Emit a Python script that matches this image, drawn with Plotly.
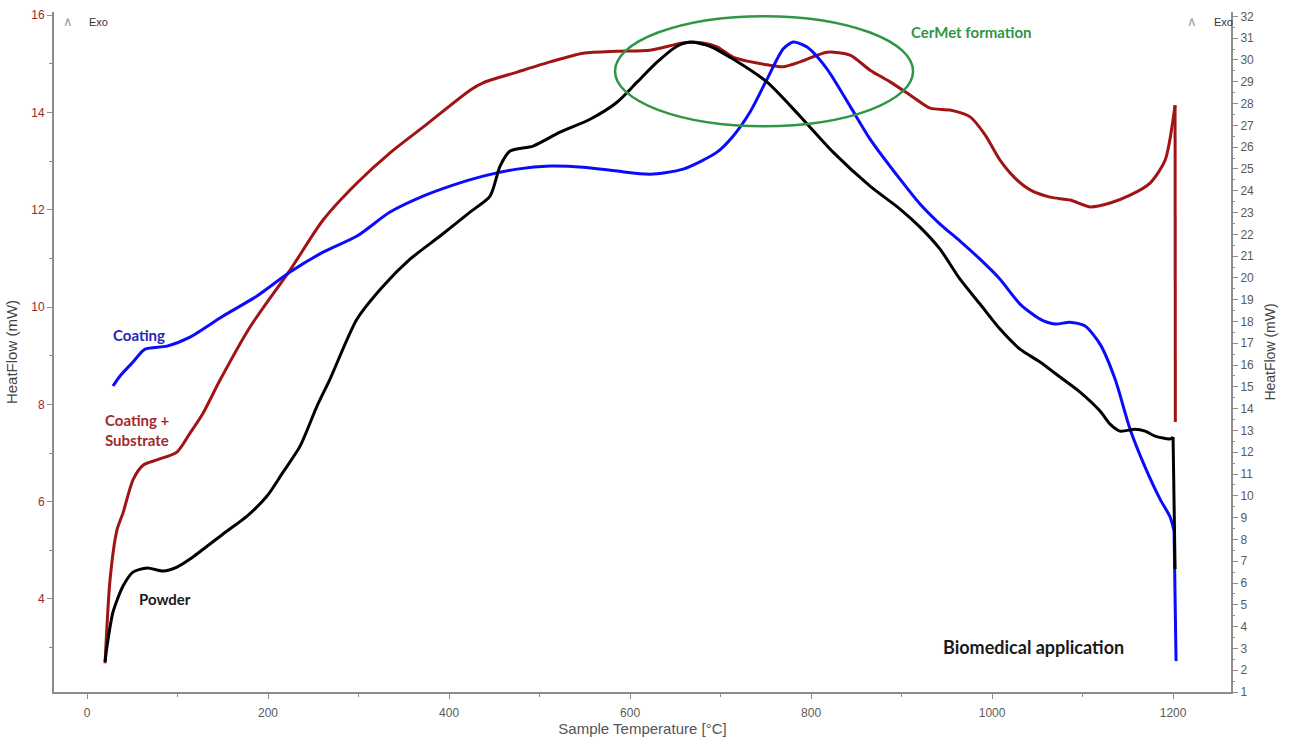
import plotly.graph_objects as go

# DSC heat-flow traces (temperature in °C, heat flow in mW)
# Coating + Substrate -> left axis
temp_substrate = [19.9, 25.4, 33.1, 39.8, 50.8, 61.9, 77.3, 99.4, 113.8, 128.2, 147.0, 180.1,
                  224.3, 260.8, 298.3, 334.8, 371.3, 423.2, 437.6, 475.1, 511.6, 548.1, 585.6,
                  622.1, 658.6, 680.7, 696.1, 713.8, 751.4, 769.1, 787.8, 817.7, 843.1, 865.2,
                  887.3, 909.4, 931.5, 953.6, 975.7, 992.3, 1008.8, 1025.4, 1042.0, 1064.1,
                  1086.2, 1108.3, 1130.4, 1152.5, 1174.6, 1191.2, 1202.2, 1202.5]
hf_substrate = [2.68, 4.39, 5.42, 5.77, 6.45, 6.75, 6.86, 7.02, 7.41, 7.82, 8.50, 9.59,
                10.76, 11.79, 12.55, 13.17, 13.70, 14.46, 14.61, 14.83, 15.04, 15.22, 15.26,
                15.28, 15.43, 15.43, 15.35, 15.14, 14.98, 14.94, 15.04, 15.24, 15.18, 14.87,
                14.63, 14.36, 14.09, 14.05, 13.91, 13.54, 13.02, 12.65, 12.41, 12.26,
                12.20, 12.06, 12.14, 12.30, 12.55, 13.02, 14.15, 7.64]

# Powder -> right axis
temp_powder = [19.9, 22.1, 28.7, 39.8, 50.8, 66.3, 84.0, 99.4, 113.8, 150.3, 176.8, 198.9,
               216.6, 235.4, 254.1, 268.5, 298.3, 327.1, 356.9, 390.1, 423.2, 445.3, 456.4,
               467.4, 492.8, 522.7, 555.8, 585.6, 607.7, 629.8, 651.9, 666.3, 688.4, 713.8,
               751.4, 787.8, 824.3, 865.2, 898.3, 920.4, 942.5, 964.6, 986.7, 1008.8, 1030.9,
               1053.0, 1075.1, 1097.2, 1119.3, 1130.4, 1141.4, 1158.0, 1169.1, 1180.1,
               1196.7, 1200.0, 1202.2]
hf_powder = [2.38, 3.11, 4.67, 5.86, 6.50, 6.69, 6.55, 6.73, 7.10, 8.25, 9.07, 9.99,
             11.09, 12.28, 14.12, 15.36, 18.11, 19.62, 20.86, 21.92, 23.02, 23.75, 25.13,
             25.82, 26.05, 26.69, 27.28, 28.06, 28.98, 29.90, 30.63, 30.82, 30.63, 30.04,
             28.98, 27.42, 25.77, 24.21, 23.16, 22.33, 21.32, 19.94, 18.80, 17.65, 16.73,
             16.14, 15.45, 14.76, 13.89, 13.29, 12.97, 13.06, 12.97, 12.74,
             12.61, 12.70, 6.64]

# Coating -> right axis
temp_coating = [28.7, 36.5, 50.8, 64.1, 88.4, 113.8, 150.3, 187.8, 224.3, 260.8, 298.3,
                334.8, 371.3, 401.1, 437.6, 475.1, 511.6, 548.1, 585.6, 622.1, 658.6, 696.1,
                713.8, 732.6, 751.4, 769.1, 780.1, 795.6, 817.7, 843.1, 865.2, 898.3, 920.4,
                942.5, 964.6, 986.7, 1008.8, 1030.9, 1053.0, 1069.6, 1086.2, 1102.8, 1119.3,
                1135.9, 1152.5, 1169.1, 1185.6, 1196.7, 1201.1, 1203.3]
hf_coating = [15.04, 15.50, 16.14, 16.73, 16.87, 17.28, 18.25, 19.17, 20.27, 21.18, 21.92,
              23.02, 23.75, 24.21, 24.67, 24.99, 25.13, 25.08, 24.90, 24.76, 24.99, 25.77,
              26.50, 27.61, 29.12, 30.50, 30.82, 30.59, 29.58, 27.88, 26.37, 24.53, 23.39,
              22.47, 21.69, 20.86, 19.94, 18.80, 18.11, 17.88, 17.97, 17.79, 16.96,
              15.36, 13.06, 11.32, 9.85, 9.03, 8.39, 2.42]

# CerMet formation region outline (temperature, right-axis heat flow)
cermet_temp = [583.4, 912.7]
cermet_hf = [26.96, 32.01]

RED = "#a01414"
BLUE = "#0a0aff"
GREEN = "#2f9646"
AXIS = "#8c8c8c"
TICKTXT = "#5a5a5a"

fig = go.Figure()


def add_curve(t, hf, color, axis, name):
    # smooth body of the scan, then the final cooling drop as a straight segment
    fig.add_trace(go.Scatter(x=t[:-1], y=hf[:-1], mode="lines", yaxis=axis, name=name,
                             line=dict(color=color, width=3, shape="spline", smoothing=0.7)))
    fig.add_trace(go.Scatter(x=t[-2:], y=hf[-2:], mode="lines", yaxis=axis, name=name,
                             line=dict(color=color, width=3)))


add_curve(temp_coating, hf_coating, BLUE, "y2", "Coating")
add_curve(temp_powder, hf_powder, "black", "y2", "Powder")
add_curve(temp_substrate, hf_substrate, RED, "y", "Coating + Substrate")

fig.add_shape(type="circle", xref="x", yref="y2",
              x0=cermet_temp[0], x1=cermet_temp[1], y0=cermet_hf[0], y1=cermet_hf[1],
              line=dict(color=GREEN, width=2.5))

label_font = "Lato, 'Open Sans', sans-serif"
annotations = [
    dict(x=977, y=31.28, text="<b>CerMet formation</b>", font=dict(color=GREEN, size=15)),
    dict(x=57, y=17.38, text="<b>Coating</b>", font=dict(color="#2626b8", size=15)),
    dict(x=18.0, y=13.0, text="<b>Coating +<br>Substrate</b>", xanchor="left", align="left",
         font=dict(color="#a32a2a", size=15)),
    dict(x=86, y=5.27, text="<b>Powder</b>", font=dict(color="#1a1a1a", size=15)),
    dict(x=1046, y=3.06, text="<b>Biomedical application</b>", font=dict(color="#1a1a1a", size=18)),
]
for a in annotations:
    a.setdefault("xanchor", "center")
    a["font"]["family"] = label_font
    fig.add_annotation(xref="x", yref="y2", showarrow=False, yanchor="middle", **a)

# Exo direction markers
for xc, xe in [(0.012, 0.028), (0.967, 0.984)]:
    fig.add_annotation(xref="paper", yref="paper", x=xc, y=0.986, text="∧", showarrow=False,
                       xanchor="center", yanchor="middle",
                       font=dict(color="#9a9a9a", size=13, family="DejaVu Sans"))
    fig.add_annotation(xref="paper", yref="paper", x=xe, y=0.985, text="Exo", xanchor="left",
                       yanchor="middle", showarrow=False,
                       font=dict(color="#333333", size=11, family="Liberation Sans"))

tick_font = dict(family="Liberation Sans, Arial, sans-serif", size=12)

fig.update_layout(
    width=1290, height=737,
    margin=dict(l=54, r=59, t=12, b=45),
    paper_bgcolor="white", plot_bgcolor="white",
    showlegend=False,
    xaxis=dict(range=[-36.5, 1264], dtick=200, tick0=0, showgrid=False, zeroline=False,
               automargin=False,
               showline=True, linecolor=AXIS, linewidth=2, ticks="outside", ticklen=5,
               tickcolor=AXIS, tickfont=dict(color=TICKTXT, **tick_font),
               ticklabelstandoff=4,
               minor=dict(dtick=100, ticks="outside", ticklen=3, tickcolor=AXIS),
               title=dict(text="Sample Temperature [°C]", standoff=2,
                          font=dict(color="#555555", size=15, family="Liberation Sans"))),
    yaxis=dict(range=[2.088, 16.066], dtick=2, tick0=0, showgrid=False, zeroline=False,
               automargin=False,
               showline=True, linecolor=AXIS, linewidth=2, ticks="outside", ticklen=5,
               tickcolor=AXIS, tickfont=dict(color="#9b2a2a", **tick_font),
               minor=dict(dtick=1, ticks="outside", ticklen=3, tickcolor=AXIS),
               title=dict(text="HeatFlow (mW)", standoff=10,
                          font=dict(color="#444444", size=15, family="Liberation Sans"))),
    yaxis2=dict(range=[1.0, 32.2], dtick=1, tick0=0, overlaying="y", side="right",
                automargin=False,
                showgrid=False, zeroline=False, showline=True, linecolor=AXIS, linewidth=2,
                ticks="outside", ticklen=5, tickcolor=AXIS,
                tickfont=dict(color=TICKTXT, **tick_font),
                minor=dict(dtick=0.5, ticks="outside", ticklen=2, tickcolor=AXIS),
                title=dict(text="HeatFlow (mW)", standoff=12,
                           font=dict(color="#444444", size=14, family="Liberation Sans"))),
)

fig.write_html("out.html")
